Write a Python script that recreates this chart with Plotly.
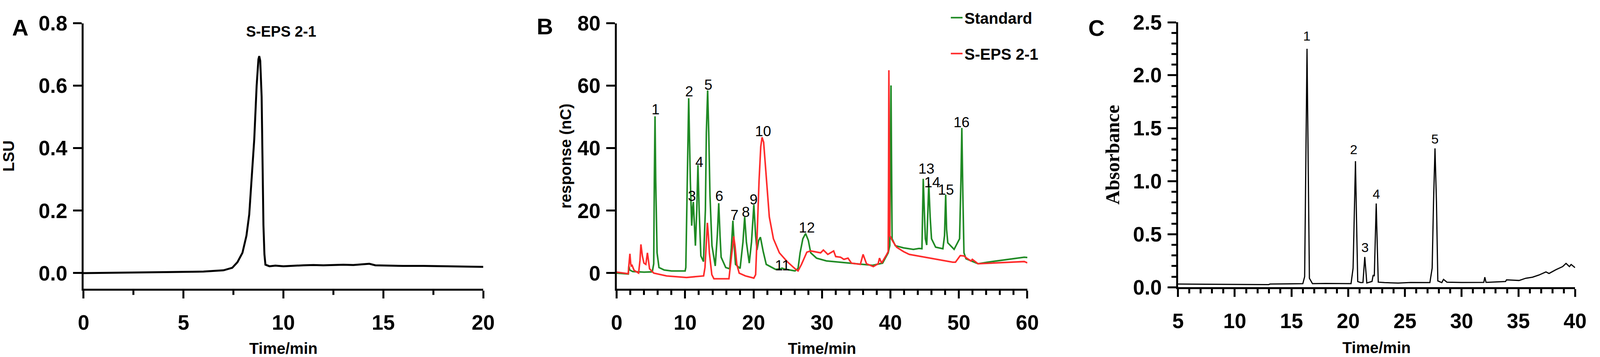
import plotly.graph_objects as go

# ---------------- Panel A data (LSU vs time) ----------------
a_time = [0, 2, 4, 6, 7, 7.44, 7.7, 7.95, 8.15, 8.29, 8.45, 8.54, 8.66, 8.75, 8.79,
          8.84, 8.91, 8.96, 9.0, 9.05, 9.1, 9.3, 9.6, 10, 10.5, 11, 11.5, 12, 12.5,
          13, 13.5, 14, 14.3, 14.6, 15, 16, 17, 18, 19, 20]
a_lsu = [0.0, 0.001, 0.003, 0.005, 0.009, 0.017, 0.035, 0.065, 0.12, 0.188, 0.33,
         0.428, 0.6, 0.685, 0.695, 0.68, 0.565, 0.35, 0.154, 0.06, 0.027, 0.022,
         0.024, 0.022, 0.024, 0.025, 0.026, 0.025, 0.026, 0.027, 0.026, 0.028, 0.03,
         0.025, 0.024, 0.023, 0.023, 0.022, 0.021, 0.02]

# ---------------- Panel B data (response nC vs time) ----------------
std_time = [0, 1.7, 1.78, 1.9, 2.35, 4.0, 5.2, 5.41, 5.5, 5.6, 5.7, 5.9, 6.18, 6.94, 8.0,
            10.0, 10.1, 10.3, 10.52, 10.76, 10.96, 11.1, 11.2, 11.3, 11.5, 11.7, 11.87,
            12.05, 12.3, 12.68, 12.96, 13.1, 13.29, 13.45, 13.63, 13.92, 14.4, 14.7,
            14.91, 15.1, 15.26, 15.93, 16.5, 16.75, 16.98, 17.2, 17.36, 18.03, 18.45,
            18.7, 18.95, 19.37, 19.7, 20.04, 20.3, 20.5, 20.75, 21.0, 21.4, 21.85, 23.2,
            24.0, 24.15, 24.5, 26.06, 26.5, 26.8, 27.2, 27.6, 28.0, 28.35, 28.6, 29.2,
            30.65, 34.75, 37.4, 38.85, 39.67, 39.9, 40.0, 40.08, 40.16, 40.24, 40.7,
            41.9, 43.35, 44.18, 44.6, 44.7, 44.79, 44.95, 45.1, 45.3, 45.45, 45.6, 45.8,
            46.0, 46.6, 47.66, 47.9, 48.07, 48.2, 48.38, 49.3, 50.1, 50.3, 50.43, 50.58,
            50.74, 51.04, 51.96, 52.8, 54.2, 59.55, 60]
std_resp = [0.0, -0.3, 2.3, 1.0, 0.5, 0.3, 0.4, 3, 30, 50.2, 30, 6.5, 1.8, 1.0, 0.7,
            0.7, 1.8, 24.9, 56, 29.5, 15.2, 21, 22.8, 18, 8.8, 20, 34.6,
            20, 5.5, 3.7, 20.3, 45, 58.5, 45, 24.9, 8.8, 2.3, 12,
            22.4, 12, 5.1, 1.8, 1.4, 8, 16.8, 8, 2.8, 1.5, 10,
            18, 10, 3.2, 10, 21.9, 12, 7.4, 10.5, 11.5, 7, 2.8, 1.2,
            1.4, 1.6, 1.3, 0.7, 1.5, 6.5, 11, 12.7, 10.5, 6.5, 6.0, 4.8,
            3.9, 3.1, 2.5, 3.2, 6.5, 8.8, 35, 60.1, 35, 11, 8.8,
            8.1, 7.6, 7.9, 7.8, 18, 30.2, 20, 11, 9.0, 18, 28.6, 18,
            11, 8.3, 7.8, 12, 25.1, 14, 9.7, 7.6, 11, 30, 46.5, 25,
            6.5, 4.6, 3.7, 3.0, 3.5, 5.1, 5.0]

eps_time = [0, 1.68, 1.8, 1.93, 2.05, 2.12, 2.25, 2.54, 3.2, 3.4, 3.54, 3.75, 3.98, 4.26,
            4.49, 4.65, 4.8, 5.41, 7.3, 10.2, 12.7, 12.9, 13.1, 13.25, 13.4, 13.54, 13.9,
            14.2, 16.4, 16.8, 17.1, 17.3, 17.55, 17.9, 18.8, 20.04, 20.3, 20.5, 20.8,
            21.05, 21.24, 21.47, 21.85, 22.3, 22.9, 23.77, 24.9, 26.06, 26.5, 27.0, 27.78,
            28.35, 29.8, 30.2, 30.85, 31.7, 32.0, 32.7, 33.2, 33.8, 34.3, 35.6, 36.0,
            36.5, 37.5, 38.2, 38.4, 38.7, 39.46, 39.67, 39.72, 39.77, 39.9, 40.28, 40.9,
            41.9, 42.75, 45.0, 49.1, 49.5, 50.2, 50.74, 51.14, 51.76, 51.96, 52.8,
            59.55, 60]
eps_resp = [0.3, -0.2, 3, 6.2, 3.0, 2.3, 2.5, 0.9, 0.0, 4, 9.2, 5.5, 3.2, 2.8,
            6.5, 3.5, 1.4, 0.0, -0.9, -1.4, -0.9, 1.8, 11, 16.1, 12, 6.5, -0.5,
            -1.8, -1.8, 6.5, 11.75, 8.5, 2.8, 0.0, -0.9, -1.6, -0.5, 11, 29.5,
            40.5, 43.5, 41.9, 30.4, 18, 11, 6.5, 3.7, 1.4, 0.7, 2.8, 6.7,
            7.1, 6.5, 7.4, 6.0, 7.1, 5.3, 5.1, 4.4, 4.8, 3.2, 2.8, 6.0,
            3.0, 2.1, 3.0, 4.8, 3.2, 6.0, 6.9, 30, 65, 12, 10.4, 8.3,
            6.9, 6.0, 5.1, 3.5, 3.5, 5.6, 5.5, 4.8, 3.9, 4.4, 3.0,
            3.7, 3.3]

b_peak_labels = ["1", "2", "3", "4", "5", "6", "7", "8", "9", "10", "11", "12",
                 "13", "14", "15", "16"]
b_label_x = [5.7, 10.6, 11.0, 12.1, 13.4, 15.0, 17.2, 18.9, 20.0, 21.4, 24.2, 27.8,
             45.25, 46.1, 48.1, 50.4]
b_label_y = [52.4, 58.2, 24.7, 35.6, 60.3, 24.7, 18.5, 19.5, 23.6, 45.4, 2.4, 14.6,
             33.4, 29.1, 26.7, 48.3]

# ---------------- Panel C data (absorbance vs time) ----------------
c_time = [5, 8, 10, 13, 13.1, 16.0, 16.16, 16.27, 16.37, 16.47, 16.58, 16.85, 18,
          20.25, 20.43, 20.54, 20.64, 20.74, 20.84, 21.1, 21.3, 21.46, 21.64, 22.1,
          22.2, 22.3, 22.38, 22.47, 22.56, 22.65, 23.2, 24.4, 25.5, 27.2, 27.4, 27.52,
          27.65, 27.78, 27.9, 28.25, 28.4, 28.7, 30, 31.95, 32.04, 32.15, 33.87, 33.95,
          35.06, 35.65, 36.24, 36.8, 37.43, 37.7, 38.3, 38.9, 39.2, 39.5, 39.65, 40]
c_abs = [0.03, 0.028, 0.026, 0.025, 0.03, 0.034, 0.1, 1.2, 2.25, 1.2, 0.085, 0.034,
         0.036, 0.034, 0.18, 0.7, 1.19, 0.6, 0.054, 0.044, 0.045, 0.286, 0.04, 0.055,
         0.115, 0.105, 0.45, 0.79, 0.4, 0.048, 0.044, 0.04, 0.045, 0.044, 0.18, 0.8,
         1.31, 0.8, 0.06, 0.044, 0.074, 0.048, 0.045, 0.046, 0.095, 0.046, 0.054, 0.07,
         0.064, 0.085, 0.095, 0.115, 0.145, 0.13, 0.165, 0.195, 0.225, 0.195, 0.215,
         0.185]

c_peak_labels = ["1", "2", "3", "4", "5"]
c_label_x = [16.34, 20.49, 21.5, 22.47, 27.65]
c_label_y = [2.37, 1.30, 0.376, 0.88, 1.40]

# ---------------- Figure ----------------
W, H = 4317, 915
SANS = "Liberation Sans, Arial, sans-serif"
SERIF = "Liberation Serif, Times New Roman, serif"
GREEN = "#1f8a24"
RED = "#ff2b2b"

fig = go.Figure()
fig.add_trace(go.Scatter(x=a_time, y=a_lsu, mode="lines", xaxis="x", yaxis="y",
                         line=dict(color="black", width=5), showlegend=False))
fig.add_trace(go.Scatter(x=std_time, y=std_resp, mode="lines", xaxis="x2", yaxis="y2",
                         name="Standard", legendgroup="g1",
                         line=dict(color=GREEN, width=4)))
fig.add_trace(go.Scatter(x=eps_time, y=eps_resp, mode="lines", xaxis="x2", yaxis="y2",
                         name="S-EPS 2-1", legendgroup="g2",
                         line=dict(color=RED, width=4)))
fig.add_trace(go.Scatter(x=c_time, y=c_abs, mode="lines", xaxis="x3", yaxis="y3",
                         line=dict(color="black", width=3), showlegend=False))

tickfont = dict(family=SANS, size=53, color="black", weight="bold")
titlefont = dict(family=SANS, size=40, color="black", weight="bold")


def xax(domain, rng, dtick, minor_dtick, anchor, title):
    return dict(domain=domain, range=rng, anchor=anchor, dtick=dtick, tick0=rng[0],
                showline=True, linewidth=5, linecolor="black", ticks="outside",
                ticklen=20, tickwidth=5, tickcolor="black", showgrid=False,
                zeroline=False, tickfont=tickfont, ticklabelstandoff=16,
                minor=dict(dtick=minor_dtick, ticks="outside", ticklen=11, tickwidth=5,
                           tickcolor="black", showgrid=False),
                title=dict(text=title, font=titlefont, standoff=28))


def yax(domain, rng, dtick, anchor, title, fmt, font, standoff, minor_dtick=None):
    d = dict(domain=domain, range=rng, anchor=anchor, dtick=dtick, tick0=0,
             showline=True, linewidth=5, linecolor="black", ticks="outside",
             ticklen=22, tickwidth=5, tickcolor="black", showgrid=False,
             zeroline=False, tickfont=tickfont, tickformat=fmt, ticklabelstandoff=4,
             title=dict(text=title, font=font, standoff=standoff))
    if minor_dtick:
        d["minor"] = dict(dtick=minor_dtick, ticks="outside", ticklen=12, tickwidth=5,
                          tickcolor="black", showgrid=False)
    return d


ydomAB = [1 - 760 / H, 1 - 33 / H]
ydomC = [1 - 756 / H, 1 - 30 / H]

fig.update_layout(
    autosize=True,
    margin=dict(l=0, r=0, t=0, b=0),
    paper_bgcolor="white", plot_bgcolor="white",
    xaxis=xax([212 / W, 1302 / W], [0, 20], 5, 2.5, "y", "Time/min"),
    yaxis=yax(ydomAB, [-0.05, 0.8], 0.2, "x", "LSU", ".1f", titlefont, 60),
    xaxis2=xax([1666 / W, 2786 / W], [0, 60], 10, 2, "y2", "Time/min"),
    yaxis2=yax(ydomAB, [-5, 80], 20, "x2", "response (nC)", "d", titlefont, 5),
    xaxis3=xax([3197 / W, 4280 / W], [5, 40], 5, 1, "y3", "Time/min"),
    yaxis3=yax(ydomC, [0, 2.5], 0.5, "x3", "Absorbance", ".1f",
               dict(family=SERIF, size=50, color="black", weight="bold"), 20, 0.1),
    legend=dict(x=2572 / W, y=1.019, xanchor="left", yanchor="top",
                font=dict(family=SANS, size=40, color="black", weight="bold"),
                tracegroupgap=37, bgcolor="rgba(0,0,0,0)"),
)

annotations = []
# panel letters
for letter, px, py in [("A", 39, 44), ("B", 1470, 41), ("C", 2975, 45)]:
    annotations.append(dict(text=letter, x=px / W, y=1 - py / H, xref="paper",
                            yref="paper", showarrow=False, xanchor="center",
                            yanchor="middle",
                            font=dict(family=SANS, size=58, color="black",
                                      weight="bold")))
# panel A sample label
annotations.append(dict(text="S-EPS 2-1", x=9.9, y=0.774, xref="x", yref="y",
                        showarrow=False,
                        font=dict(family=SANS, size=38, color="black", weight="bold")))
# panel B peak numbers
for t, xv, yv in zip(b_peak_labels, b_label_x, b_label_y):
    annotations.append(dict(text=t, x=xv, y=yv, xref="x2", yref="y2", showarrow=False,
                            font=dict(family=SANS, size=37, color="black")))
# panel C peak numbers
for t, xv, yv in zip(c_peak_labels, c_label_x, c_label_y):
    annotations.append(dict(text=t, x=xv, y=yv, xref="x3", yref="y3", showarrow=False,
                            font=dict(family=SANS, size=34, color="black")))
fig.update_layout(annotations=annotations)

fig.write_html(
    "out.html",
    default_width="100vw",
    default_height="100vh",
    config={"displayModeBar": False},
    post_script=("document.body.style.margin='0';"
                 "document.body.style.overflow='hidden';"
                 "document.documentElement.style.overflow='hidden';"
                 "window.dispatchEvent(new Event('resize'));"),
)
